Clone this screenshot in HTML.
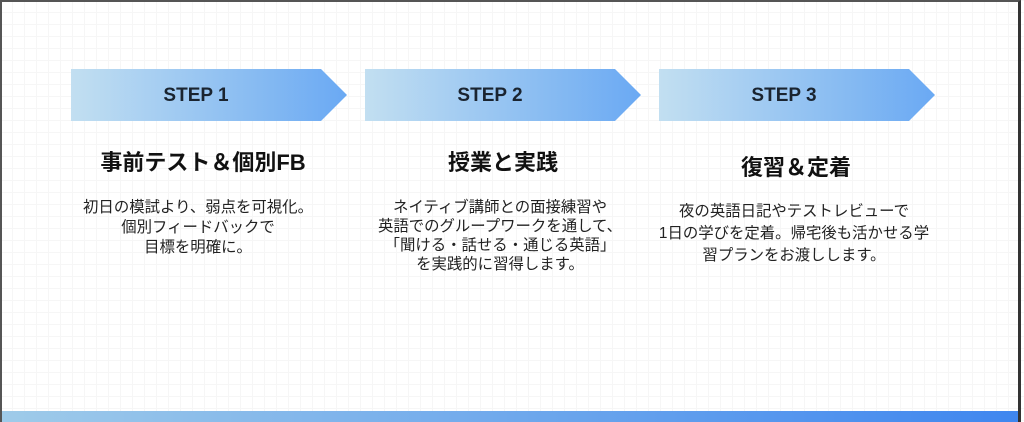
<!DOCTYPE html>
<html><head><meta charset="utf-8"><style>
html,body{margin:0;padding:0}
body{width:1024px;height:422px;position:relative;overflow:hidden;background:#fff;font-family:"Liberation Sans","Noto Sans CJK JP",sans-serif;color:#222;
background-image:linear-gradient(#f6f6f6 1px,transparent 1px),linear-gradient(90deg,#f6f6f6 1px,transparent 1px);background-size:12px 12px}
.frame{position:absolute;left:0;top:0;width:1021px;height:422px;border-top:2px solid #555;border-left:2px solid #555;border-right:3px solid #333;box-sizing:border-box}
.arrow{position:absolute;top:69px;width:276px;height:52px;clip-path:polygon(0 0,250px 0,100% 50%,250px 100%,0 100%);background:linear-gradient(90deg,#c2dff1,#6aa9f3)}
.arrow span{position:absolute;left:0;width:250px;top:0;line-height:54px;text-align:center;font-weight:bold;font-size:19px;color:#1a2430}
.t{position:absolute;width:300px;text-align:center;font-weight:bold;font-size:22px;line-height:30px;color:#111}
.d{position:absolute;width:300px;text-align:center;font-size:15.4px;color:#222}
.bar{position:absolute;left:0;top:411px;width:1021px;height:11px;background:linear-gradient(90deg,#9fcbe9,#3f86ef)}
</style></head><body>
<div class="arrow" style="left:71px"><span>STEP 1</span></div>
<div class="arrow" style="left:365px"><span>STEP 2</span></div>
<div class="arrow" style="left:659px"><span>STEP 3</span></div>

<div class="t" style="left:53px;top:148px">事前テスト＆個別FB</div>
<div class="d" style="left:48px;top:198px;line-height:20px">初日の模試より、弱点を可視化。<br>個別フィードバックで<br>目標を明確に。</div>

<div class="t" style="left:353px;top:148px">授業と実践</div>
<div class="d" style="left:350px;top:198px;line-height:19px">ネイティブ講師との面接練習や<br>英語でのグループワークを通して、<br>「聞ける・話せる・通じる英語」<br>を実践的に習得します。</div>

<div class="t" style="left:646px;top:153px">復習＆定着</div>
<div class="d" style="left:644px;top:201px;line-height:22px">夜の英語日記やテストレビューで<br>1日の学びを定着。帰宅後も活かせる学<br>習プランをお渡しします。</div>

<div class="bar"></div>
<div class="frame"></div>
</body></html>
